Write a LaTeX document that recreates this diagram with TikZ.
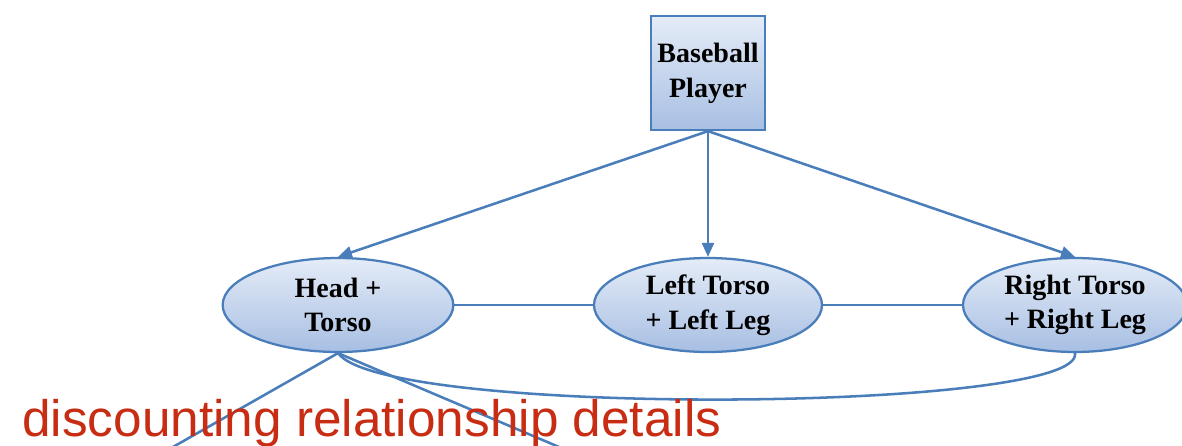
\documentclass[tikz,border=0pt]{standalone}
\usepackage{fontspec}
\setmainfont{Liberation Serif}
\newfontfamily\helv{Liberation Sans}
\usetikzlibrary{arrows.meta,shapes.geometric}
\definecolor{edgeblue}{RGB}{74,126,187}
\definecolor{filltop}{RGB}{228,236,247}
\definecolor{fillbot}{RGB}{168,191,227}
\definecolor{labred}{RGB}{200,45,20}
\tikzset{
  boxnode/.style={rectangle, draw=edgeblue, line width=1.7pt, top color=filltop, bottom color=fillbot,
    minimum width=85.5pt, minimum height=85.5pt, inner sep=0pt, align=center,
    font=\fontsize{21}{26}\selectfont\bfseries},
  ellnode/.style={ellipse, draw=edgeblue, line width=1.7pt, top color=filltop, bottom color=fillbot,
    minimum width=173pt, minimum height=70.5pt, inner sep=0pt, align=center,
    font=\fontsize{21}{26}\selectfont\bfseries},
  conn/.style={draw=edgeblue, line width=1.9pt},
  arr/.style={conn, -{Triangle[length=10.5pt,width=9pt]}},
}
\begin{document}
\begin{tikzpicture}[x=0.75pt,y=-0.75pt]
\useasboundingbox (0,0) rectangle (1182,446);
\clip (0,0) rectangle (1182,446);
\fill[white] (0,0) rectangle (1182,446);
\node[boxnode] (bp) at (708,73) {Baseball\\Player};
\node[ellnode] (ht) at (338,305) {Head +\\Torso};
\node[ellnode, minimum width=171pt] (lt) at (708,305) {Left Torso\\+ Left Leg};
\node[ellnode, minimum width=168pt] (rt) at (1075,305) {Right Torso\\+ Right Leg};
\coordinate (fl) at (129,472);
\coordinate (fr) at (618,472);
\draw[arr] (bp.south) -- (ht.north);
\draw[arr] (bp.south) -- (lt.north);
\draw[arr] (bp.south) -- (rt.north);
\draw[conn] (ht.east) -- (lt.west);
\draw[conn] (lt.east) -- (rt.west);
\draw[conn] (ht.south) -- (fl);
\draw[conn] (ht.south) -- (fr);
\draw[conn] (ht.south) .. controls (385,418) and (1085,412) .. (rt.south);
\node[anchor=base west, inner sep=0pt, text=labred, font=\helv\fontsize{38.5}{40}\selectfont] (lab) at (22,436) {discounting relationship details};
\end{tikzpicture}
\end{document}
